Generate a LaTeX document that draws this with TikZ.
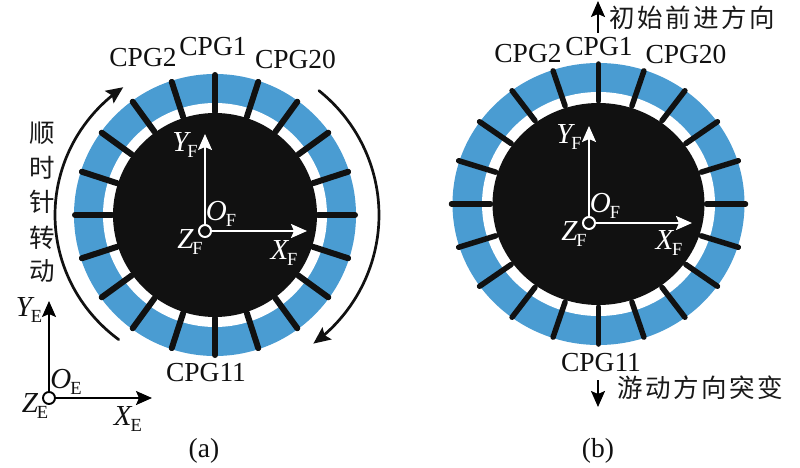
\documentclass[tikz,border=0pt]{standalone}
\usepackage{fontspec}
\setmainfont{Liberation Serif}
\newfontfamily\cjk{Noto Sans CJK SC}
\usetikzlibrary{arrows.meta}
\definecolor{ringblue}{HTML}{4A9CD2}
\definecolor{nearblack}{HTML}{111111}
\newcommand{\lab}[2]{{\fontsize{29}{30}\selectfont\itshape #1}\kern-1pt\raisebox{-6pt}{\fontsize{18.5}{20}\selectfont #2}}
\tikzset{
  txt/.style={inner sep=0pt,font=\fontsize{27.5}{30}\selectfont,text=nearblack},
  cjktxt/.style={inner sep=0pt,font=\cjk\fontsize{25.5}{30}\selectfont,text=black!90},
  spoke/.style={draw=nearblack,line width=6pt,line cap=round},
  axw/.style={draw=white,line width=1.8pt,-{Stealth[length=16pt,width=14pt,inset=3pt]}},
  axk/.style={draw=black,line width=1.8pt,-{Stealth[length=16pt,width=14pt,inset=3pt]}},
  orig/.style={circle,draw=black,fill=white,line width=1.9pt,minimum size=12pt,inner sep=0pt},
  origw/.style={circle,draw=white,fill=nearblack,line width=2pt,minimum size=12pt,inner sep=0pt},
  turn/.style={draw=nearblack,line width=2.7pt,line cap=round,-{Stealth[length=17pt,width=15pt,inset=3pt]}},
}
\begin{document}
\begin{tikzpicture}[x=1pt,y=-1pt]
\useasboundingbox (0,0) rectangle (800,468);
\fill[white] (0,0) rectangle (800,468);
% (a) ring
\fill[ringblue] (215,215) circle[radius=141];
\fill[white] (215,215) circle[radius=112];
\fill[nearblack] (215,215) circle[radius=102];
\foreach \a in {0,18,...,342}
  \draw[spoke] ({215+103*cos(\a)},{215+103*sin(\a)}) -- ({215+140*cos(\a)},{215+140*sin(\a)});
% (b) ring
\fill[ringblue] (598.5,204) ellipse[x radius=146,y radius=141];
\fill[white] (598.5,204) ellipse[x radius=116.5,y radius=112];
\fill[nearblack] (598.5,204) ellipse[x radius=106,y radius=101];
\foreach \a in {0,18,...,342}
  \draw[spoke,line width=5.5pt] ({598.5+108*cos(\a)},{204+103*sin(\a)}) -- ({598.5+147*cos(\a)},{204+140*sin(\a)});
% rotation arcs (a)
\draw[turn] plot[smooth,domain=127:235,samples=40] ({215+160*cos(\x)},{215+156*sin(\x)});
\draw[turn] plot[smooth,domain=-51:53.5,samples=40] ({217+162*cos(\x)},{215+160*sin(\x)});
% frame F (a)
\node[origw] (oa) at (205,231) {};
\coordinate (oay) at (205,134);
\coordinate (oax) at (307,231);
\draw[axw] (oa) -- (oay);
\draw[axw] (oa) -- (oax);
\node[txt,text=white] (lya) at (185,145) {\lab{Y}{F}};
\node[txt,text=white] (loa) at (221,214) {\lab{O}{F}};
\node[txt,text=white] (lza) at (190,242) {\lab{Z}{F}};
\node[txt,text=white] (lxa) at (284,253) {\lab{X}{F}};
% frame E
\node[orig] (oe) at (49,398) {};
\coordinate (oey) at (49,301);
\coordinate (oex) at (152,398);
\draw[axk] (oe) -- (oey);
\draw[axk] (oe) -- (oex);
\node[txt] (lye) at (29,310) {\lab{Y}{E}};
\node[txt] (loe) at (66,382) {\lab{O}{E}};
\node[txt] (lze) at (35,406) {\lab{Z}{E}};
\node[txt] (lxe) at (128,419) {\lab{X}{E}};
% CPG labels (a)
\node[txt] (a2) at (143,58) {CPG2};
\node[txt] (a1) at (213,47) {CPG1};
\node[txt] (a20) at (295.5,59) {CPG20};
\node[txt] (a11) at (206,373) {CPG11};
\node[cjktxt] (cw1) at (42,133) {顺};
\node[cjktxt] (cw2) at (42,168) {时};
\node[cjktxt] (cw3) at (42,202) {针};
\node[cjktxt] (cw4) at (42,238) {转};
\node[cjktxt] (cw5) at (42,271) {动};
\node[txt] (capa) at (204,451) {(a)};
% frame F (b)
\node[origw] (ob) at (589,223) {};
\coordinate (oby) at (589,126);
\coordinate (obx) at (692,223);
\draw[axw] (ob) -- (oby);
\draw[axw] (ob) -- (obx);
\node[txt,text=white] (lyb) at (569,137) {\lab{Y}{F}};
\node[txt,text=white] (lob) at (605,206) {\lab{O}{F}};
\node[txt,text=white] (lzb) at (574,234) {\lab{Z}{F}};
\node[txt,text=white] (lxb) at (669,243) {\lab{X}{F}};
% CPG labels (b)
\node[txt] (b2) at (528,54) {CPG2};
\node[txt] (b1) at (599,47) {CPG1};
\node[txt] (b20) at (686,54) {CPG20};
\node[txt] (b11) at (601,363) {CPG11};
% direction arrows
\coordinate (ua) at (598,33);
\coordinate (ub) at (598,1);
\draw[axk] (ua) -- (ub);
\node[cjktxt,anchor=west] (init) at (609,18) {\addfontfeature{LetterSpace=10}初始前进方向};
\coordinate (da) at (598,380);
\coordinate (db) at (598,407);
\draw[axk] (da) -- (db);
\node[cjktxt,anchor=west] (jump) at (617,388) {\addfontfeature{LetterSpace=10}游动方向突变};
\node[txt] (capb) at (598,451) {(b)};
\end{tikzpicture}
\end{document}
